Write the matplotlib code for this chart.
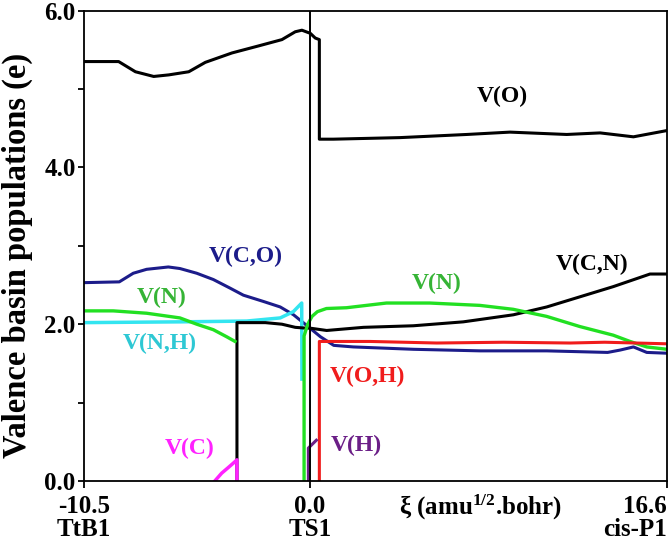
import matplotlib
matplotlib.use("Agg")
import matplotlib.pyplot as plt
import matplotlib.transforms as mtransforms

plt.rcParams["font.family"] = ["Liberation Serif", "DejaVu Serif"]
plt.rcParams["font.weight"] = "bold"
plt.rcParams["mathtext.fontset"] = "custom"
plt.rcParams["mathtext.rm"] = "Liberation Serif:bold"
plt.rcParams["mathtext.it"] = "Liberation Serif:bold:italic"
plt.rcParams["mathtext.bf"] = "Liberation Serif:bold"

# V(O)
vo_x = [-10.5, -8.89, -8.11, -7.26, -6.56, -5.63, -4.86, -3.62, -2.38, -1.30, -0.68, -0.37,
        0.02, 0.25, 0.44, 0.44, 1.09, 4.19, 7.29, 9.30, 11.94, 13.49, 15.04, 16.6]
vo_y = [5.35, 5.35, 5.22, 5.16, 5.18, 5.22, 5.34, 5.46, 5.55, 5.63, 5.73, 5.75,
        5.71, 5.65, 5.63, 4.36, 4.36, 4.38, 4.42, 4.45, 4.42, 4.44, 4.39, 4.47]

# V(C,O)
vco_x = [-10.5, -8.86, -8.21, -7.59, -6.58, -6.04, -5.26, -4.49, -3.71, -3.09, -2.16, -1.38,
         -0.76, -0.13, 0.49, 1.11, 2.02, 4.81, 7.91, 11.01, 13.84, 14.42, 15.04, 15.66, 16.6]
vco_y = [2.53, 2.54, 2.65, 2.70, 2.73, 2.71, 2.65, 2.57, 2.46, 2.37, 2.29, 2.22,
         2.12, 1.98, 1.84, 1.73, 1.71, 1.68, 1.66, 1.66, 1.64, 1.67, 1.71, 1.64, 1.63]

# V(N) before and after the TS
vn1_x = [-10.5, -9.14, -7.59, -6.04, -5.26, -4.49, -3.87, -3.48]
vn1_y = [2.17, 2.17, 2.14, 2.08, 2.00, 1.93, 1.84, 1.78]
vn2_x = [-0.27, -0.27, -0.1, 0.1, 0.35, 0.77, 1.70, 3.56, 5.57, 7.90, 9.45, 11.0, 12.55,
         14.1, 14.88, 15.66, 16.6]
vn2_y = [0.0, 1.85, 2.0, 2.1, 2.16, 2.20, 2.21, 2.27, 2.27, 2.24, 2.19, 2.10, 1.97,
         1.86, 1.78, 1.71, 1.68]

# V(C,N)
vcn_x = [-3.39, -3.39, -2.07, -1.30, -0.68, -0.21, 0.0, 0.78, 2.49, 4.81, 7.13, 9.46,
         11.01, 12.56, 14.11, 15.81, 16.6]
vcn_y = [0.0, 2.02, 2.02, 2.00, 1.96, 1.95, 1.95, 1.92, 1.96, 1.98, 2.03, 2.12,
         2.22, 2.35, 2.48, 2.64, 2.64]

# V(N,H)
vnh_x = [-10.5, -6.04, -2.94, -1.38, -0.77, -0.38, -0.37]
vnh_y = [2.02, 2.03, 2.04, 2.08, 2.16, 2.27, 1.3]

# V(O,H)
voh_x = [0.44, 0.44, 2.8, 5.9, 9.0, 12.1, 13.7, 16.6]
voh_y = [0.0, 1.78, 1.78, 1.76, 1.77, 1.76, 1.77, 1.75]

# V(C)
vc_x = [-4.42, -4.10, -3.80, -3.55, -3.39, -3.39]
vc_y = [0.0, 0.10, 0.17, 0.23, 0.27, 0.0]

# V(H)
vh_x = [-0.07, -0.07, 0.30]
vh_y = [0.0, 0.42, 0.52]

xticks = [-10.5, 0.0, 16.6]
xticklabels = ["-10.5\nTtB1", "0.0\nTS1", "16.6\ncis-P1"]
yticks = [0, 1, 2, 3, 4, 5, 6]
yticklabels = ["0.0", "", "2.0", "", "4.0", "", "6.0"]

NAVY = "#1c1c8a"
GREEN = "#22e022"
CYAN = "#33e5f0"
RED = "#f01c1c"
MAGENTA = "#ff22ff"
PURPLE = "#6b1f87"

fig = plt.figure(figsize=(6.69, 5.47), dpi=100)
ax = fig.add_axes([84 / 669, 66 / 547, 583 / 669, 470.4 / 547])

lw = 2.2
ax.plot(vo_x, vo_y, color="black", lw=lw)
ax.plot(vco_x, vco_y, color=NAVY, lw=lw)
ax.plot(vnh_x, vnh_y, color=CYAN, lw=lw + 0.3)
ax.plot(vcn_x, vcn_y, color="black", lw=lw)
ax.plot(vn1_x, vn1_y, color=GREEN, lw=lw + 0.2)
ax.plot(vn2_x, vn2_y, color=GREEN, lw=lw + 0.2)
ax.plot(voh_x, voh_y, color=RED, lw=lw)
ax.plot(vh_x, vh_y, color=PURPLE, lw=lw)
ax.plot(vc_x, vc_y, color=MAGENTA, lw=lw + 0.3)
ax.axvline(0.0, color="black", lw=1.4, zorder=5)

lab = dict(fontsize=17, fontweight="bold", ha="center", va="center")
ax.text(8.95, 4.90, "V(O)", color="black", **lab)
ax.text(-3.0, 2.86, "V(C,O)", color=NAVY, **lab)
ax.text(-6.9, 2.34, "V(N)", color="#36b436", **lab)
ax.text(-7.0, 1.76, "V(N,H)", color="#2ec8d4", **lab)
ax.text(13.1, 2.76, "V(C,N)", color="black", **lab)
ax.text(5.9, 2.52, "V(N)", color="#36b436", **lab)
ax.text(2.68, 1.33, "V(O,H)", color=RED, **lab)
ax.text(2.14, 0.45, "V(H)", color=PURPLE, **lab)
ax.text(-5.6, 0.42, "V(C)", color=MAGENTA, **lab)

ax.set_xlim(-10.5, 16.6)
ax.set_ylim(0, 6)
ax.set_xticks(xticks)
ax.set_xticklabels(xticklabels, fontsize=18, fontweight="bold", linespacing=1.0)
last = ax.get_xticklabels()[-1]
last.set_horizontalalignment("right")
last.set_transform(last.get_transform() +
                   mtransforms.ScaledTranslation(-6 / 100, 0, fig.dpi_scale_trans))
ax.set_yticks(yticks)
ax.set_yticklabels(yticklabels, fontsize=18, fontweight="bold")
ax.tick_params(axis="x", direction="out", length=5, width=1.3, pad=5)
ax.tick_params(axis="y", direction="out", length=4, width=1.3, pad=2)
for s in ax.spines.values():
    s.set_linewidth(1.3)

ax.text(7.95, -0.025, r"ξ (amu$^{1/2}$.bohr)", fontsize=18, fontweight="bold",
        ha="center", va="top", transform=ax.get_xaxis_transform())

fig.text(17 / 669, 1 - 255 / 547, "Valence basin populations (e)", rotation=90,
         fontsize=23.5, fontweight="bold", ha="center", va="center")

fig.savefig("out.png", dpi=100)
